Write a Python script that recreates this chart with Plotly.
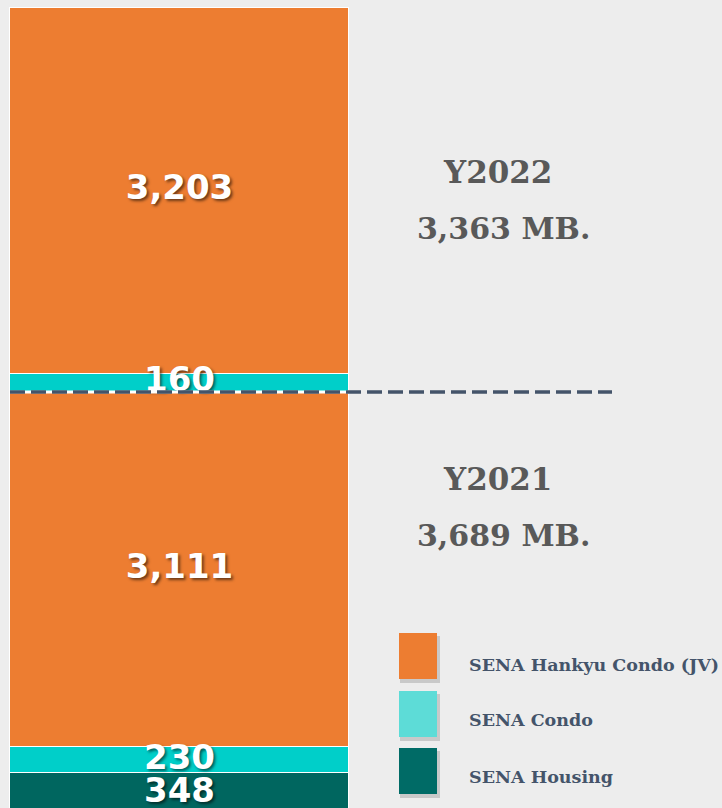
import plotly.graph_objects as go

# ---- data ----
years = ["Y2021", "Y2022"]
segments = ["SENA Housing", "SENA Condo", "SENA Hankyu Condo (JV)"]
housing = [348, 0]
condo = [230, 160]
hankyu = [3111, 3203]
totals = [3689, 3363]
total_labels = ["3,689 MB.", "3,363 MB."]

bar_colors = {"SENA Housing": "#00665F", "SENA Condo": "#00CFC9", "SENA Hankyu Condo (JV)": "#ED7D31"}
legend_colors = {"SENA Hankyu Condo (JV)": "#ED7D31", "SENA Condo": "#5DDCD7", "SENA Housing": "#006B66"}

W, H = 722, 808
fig = go.Figure()

vals_by_year = [dict(zip(segments, [housing[i], condo[i], hankyu[i]])) for i in range(len(years))]
base = 0
label_y, label_t = [], []
for i, yr in enumerate(years):
    for seg in segments:
        v = vals_by_year[i][seg]
        if v <= 0:
            continue
        fig.add_trace(go.Bar(
            x=[0], y=[v], base=[base], width=1,
            marker=dict(color=bar_colors[seg], line=dict(color="white", width=1)),
            name=f"{yr} {seg}", showlegend=False, hoverinfo="skip",
        ))
        label_y.append(base + v / 2)
        label_t.append(f"{v:,}")
        base += v
grand_total = base

fig.add_trace(go.Scatter(
    x=[0] * len(label_y), y=label_y, text=label_t, mode="text",
    textposition="middle center",
    textfont=dict(family="DejaVu Sans", size=34, color="white", weight="bold",
                  shadow="2px 2px 3px rgba(0,0,0,0.55)"),
    showlegend=False, hoverinfo="skip",
))

# axes mapping (bar spans px 10..349, top at px 8, zero at px 813 just below the frame)
k = (813 - 8) / grand_total
y_top = grand_total + 8 / k
y_bot = (813 - H) / k
bar_px = 339
x0 = -0.5 - 10 / bar_px
x1 = x0 + W / bar_px

fig.update_xaxes(range=[x0, x1], visible=False, fixedrange=True)
fig.update_yaxes(range=[y_bot, y_top], visible=False, fixedrange=True)

# divider between years
div_y = totals[0]
fig.add_shape(type="line", xref="x", yref="y", x0=-0.5, x1=0.5, y0=div_y, y1=div_y,
              line=dict(color="white", width=3))
fig.add_shape(type="line", xref="paper", yref="y", x0=10 / W, x1=612 / W, y0=div_y, y1=div_y,
              line=dict(color="#44546A", width=3.5, dash="15px,6px"))

def py(p):
    return 1 - p / H

serif = "DejaVu Serif"
year_pos = {"Y2022": (172, 228), "Y2021": (479, 535)}
for i, yr in enumerate(years):
    a, b = year_pos[yr]
    fig.add_annotation(x=497 / W, y=py(a), xref="paper", yref="paper", text=yr,
                       showarrow=False, xanchor="center", yanchor="middle",
                       font=dict(family=serif, size=31, color="#595959", weight="bold"))
    fig.add_annotation(x=503 / W, y=py(b), xref="paper", yref="paper", text=total_labels[i],
                       showarrow=False, xanchor="center", yanchor="middle",
                       font=dict(family=serif, size=30, color="#595959", weight="bold"))

leg = [("SENA Hankyu Condo (JV)", 633, 679, 665), ("SENA Condo", 691, 737, 720), ("SENA Housing", 748, 794, 777)]
for name, t, b, ty in leg:
    fig.add_shape(type="rect", xref="paper", yref="paper", x0=400 / W, x1=440 / W,
                  y0=py(b + 4), y1=py(t + 3), line=dict(width=0), fillcolor="rgba(0,0,0,0.15)")
    fig.add_shape(type="rect", xref="paper", yref="paper", x0=399 / W, x1=437 / W,
                  y0=py(b), y1=py(t), line=dict(width=0), fillcolor=legend_colors[name])
    fig.add_annotation(x=467 / W, y=py(ty), xref="paper", yref="paper", text=name,
                       showarrow=False, xanchor="left", yanchor="middle",
                       font=dict(family=serif, size=17.5, color="#44546A", weight="bold"))

fig.update_layout(
    width=W, height=H, barmode="stack", bargap=0,
    margin=dict(l=0, r=0, t=0, b=0),
    paper_bgcolor="#ededed", plot_bgcolor="#ededed",
    showlegend=False,
)

fig.write_html("out.html", config={"displayModeBar": False},
               post_script="document.body.style.margin='0px';document.body.style.background='#ededed';")
